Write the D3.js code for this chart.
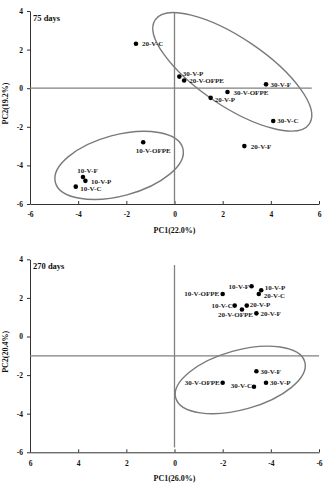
<!DOCTYPE html>
<html>
<head>
<meta charset="utf-8">
<script src="https://cdn.jsdelivr.net/npm/d3@7"></script>
<style>
  body { margin: 0; background: #fff; }
  svg { display: block; font-family: "Liberation Serif", "Times New Roman", serif; font-weight: bold; }
</style>
</head>
<body>
<script>
// --- 75 days ---
var names75 = ["20-V-C", "30-V-P", "20-V-OFPE", "30-V-F", "30-V-OFPE", "20-V-P",
               "30-V-C", "20-V-F", "10-V-OFPE", "10-V-F", "10-V-P", "10-V-C"];
var pc1_75 = [-1.6, 0.2, 0.4, 3.8, 2.2, 1.5, 4.1, 2.9, -1.3, -3.8, -3.7, -4.1];
var pc2_75 = [2.3, 0.6, 0.4, 0.2, -0.2, -0.5, -1.7, -3.0, -2.8, -4.6, -4.8, -5.1];

// --- 270 days ---
var names270 = ["10-V-F", "10-V-P", "20-V-C", "10-V-OFPE", "10-V-C", "20-V-P",
                "20-V-OFPE", "20-V-F", "30-V-F", "30-V-OFPE", "30-V-C", "30-V-P"];
var pc1_270 = [-3.2, -3.6, -3.5, -2.0, -2.5, -3.0, -2.8, -3.4, -3.4, -2.0, -3.3, -3.8];
var pc2_270 = [2.6, 2.4, 2.2, 2.2, 1.6, 1.6, 1.4, 1.2, -1.8, -2.4, -2.6, -2.4];

var xTicks = [-6, -4, -2, 0, 2, 4, 6];
var yTicks = [-6, -4, -2, 0, 2, 4];

var W = 324, H = 483;
var svg = d3.select("body").append("svg").attr("width", W).attr("height", H);

// label placement (pixels relative to the point)
var labelPos75 = {
  "20-V-C": [6, 0, "start"], "30-V-P": [3.5, -3.5, "start"], "20-V-OFPE": [5, 0, "start"],
  "30-V-F": [4.5, 0, "start"], "30-V-OFPE": [6, 0.5, "start"], "20-V-P": [4, 1.5, "start"],
  "30-V-C": [4, 0, "start"], "20-V-F": [6.5, 0, "start"], "10-V-OFPE": [10, 8, "middle"],
  "10-V-F": [4.5, -6, "middle"], "10-V-P": [5.5, 0.5, "start"], "10-V-C": [4.5, 2, "start"]
};
var labelPos270 = {
  "10-V-F": [-2.5, 0, "end"], "10-V-P": [3.5, -2.5, "start"], "20-V-C": [5, 1.8, "start"],
  "10-V-OFPE": [-3.5, 0, "end"], "10-V-C": [-2, 0, "end"], "20-V-P": [3, -1.5, "start"],
  "20-V-OFPE": [-6.5, 5, "middle"], "20-V-F": [4, 0, "start"], "30-V-F": [4, 0, "start"],
  "30-V-OFPE": [-3, 0, "end"], "30-V-C": [-2, -1, "end"], "30-V-P": [4, 0, "start"]
};

var panels = [
  { top: 11, names: names75, pc1: pc1_75, pc2: pc2_75, xDomain: [-6, 6],
    title: "75 days", xTitle: "PC1(22.0%)", yTitle: "PC2(19.2%)", labels: labelPos75,
    hLine: { y: 0, x0: -6, x1: 5.7 }, vLine: { x: 0, y0: 3.9, y1: -6 },
    ellipses: [ { cx: 2.4, cy: 0.85, rx: 93, ry: 34, angle: 34 },
                { cx: -2.3, cy: -4.0, rx: 66, ry: 30.5, angle: -15 } ] },
  { top: 259.3, names: names270, pc1: pc1_270, pc2: pc2_270, xDomain: [6, -6],
    title: "270 days", xTitle: "PC1(26.0%)", yTitle: "PC2(20.4%)", labels: labelPos270,
    hLine: { y: -1, x0: 6, x1: -6 }, vLine: { x: 0, y0: 3.7, y1: -5.75 },
    ellipses: [ { cx: -2.73, cy: -2.25, rx: 67, ry: 29.6, angle: -15.6 } ] }
];

var left = 30, right = 319, plotH = 193;

panels.forEach(function(p) {
  var x = d3.scaleLinear().domain(p.xDomain).range([left, right]);
  var y = d3.scaleLinear().domain([-6, 4]).range([p.top + plotH, p.top]);
  var g = svg.append("g");

  // axes
  var xAxis = g.append("g")
    .attr("transform", "translate(0," + (p.top + plotH) + ")")
    .call(d3.axisBottom(x).tickValues(xTicks).tickFormat(function(d) { return String(d); })
      .tickSize(-3).tickSizeOuter(0).tickPadding(8));
  var yAxis = g.append("g")
    .attr("transform", "translate(" + left + ",0)")
    .call(d3.axisLeft(y).tickValues(yTicks).tickFormat(function(d) { return String(d); })
      .tickSize(3).tickSizeOuter(0).tickPadding(4));
  [xAxis, yAxis].forEach(function(a) {
    a.select(".domain").attr("stroke", "#333");
    a.selectAll(".tick line").attr("stroke", "#333");
    a.selectAll("text").attr("fill", "#111").style("font-size", "7.5px")
      .style("font-family", "Liberation Serif, serif").style("font-weight", "bold");
  });

  // reference lines
  g.append("line")
    .attr("x1", x(p.hLine.x0)).attr("x2", x(p.hLine.x1))
    .attr("y1", y(p.hLine.y)).attr("y2", y(p.hLine.y))
    .attr("stroke", "#808080").attr("stroke-width", 1.3);
  g.append("line")
    .attr("x1", x(p.vLine.x)).attr("x2", x(p.vLine.x))
    .attr("y1", y(p.vLine.y0)).attr("y2", y(p.vLine.y1))
    .attr("stroke", "#808080").attr("stroke-width", 1.3);

  // ellipses
  g.selectAll("ellipse.grp")
    .data(p.ellipses)
    .enter().append("ellipse")
      .attr("class", "grp")
      .attr("rx", function(d) { return d.rx; })
      .attr("ry", function(d) { return d.ry; })
      .attr("transform", function(d) {
        return "translate(" + x(d.cx) + "," + y(d.cy) + ") rotate(" + d.angle + ")";
      })
      .attr("fill", "none")
      .attr("stroke", "#7a7a7a")
      .attr("stroke-width", 1.4);

  var pts = p.names.map(function(n, i) { return { name: n, pc1: p.pc1[i], pc2: p.pc2[i] }; });

  // points
  g.selectAll("circle")
    .data(pts)
    .enter().append("circle")
      .attr("cx", function(d) { return x(d.pc1); })
      .attr("cy", function(d) { return y(d.pc2); })
      .attr("r", 2.3)
      .attr("fill", "#000");

  // point labels
  g.selectAll("text.lbl")
    .data(pts)
    .enter().append("text")
      .attr("class", "lbl")
      .attr("x", function(d) { return x(d.pc1) + p.labels[d.name][0]; })
      .attr("y", function(d) { return y(d.pc2) + p.labels[d.name][1]; })
      .attr("dy", "0.35em")
      .attr("text-anchor", function(d) { return p.labels[d.name][2]; })
      .style("font-size", "7px")
      .attr("fill", "#222")
      .text(function(d) { return d.name; });

  // panel title
  g.append("text")
    .attr("x", 33).attr("y", p.top + 10)
    .style("font-size", "8.5px")
    .attr("fill", "#111")
    .text(p.title);

  // axis titles
  g.append("text")
    .attr("x", (left + right) / 2).attr("y", p.top + plotH + 29)
    .attr("text-anchor", "middle")
    .style("font-size", "8px")
    .attr("fill", "#111")
    .text(p.xTitle);
  g.append("text")
    .attr("transform", "translate(8," + (p.top + plotH / 2 - 4) + ") rotate(-90)")
    .attr("text-anchor", "middle")
    .style("font-size", "8px")
    .attr("fill", "#111")
    .text(p.yTitle);
});
</script>
</body>
</html>
